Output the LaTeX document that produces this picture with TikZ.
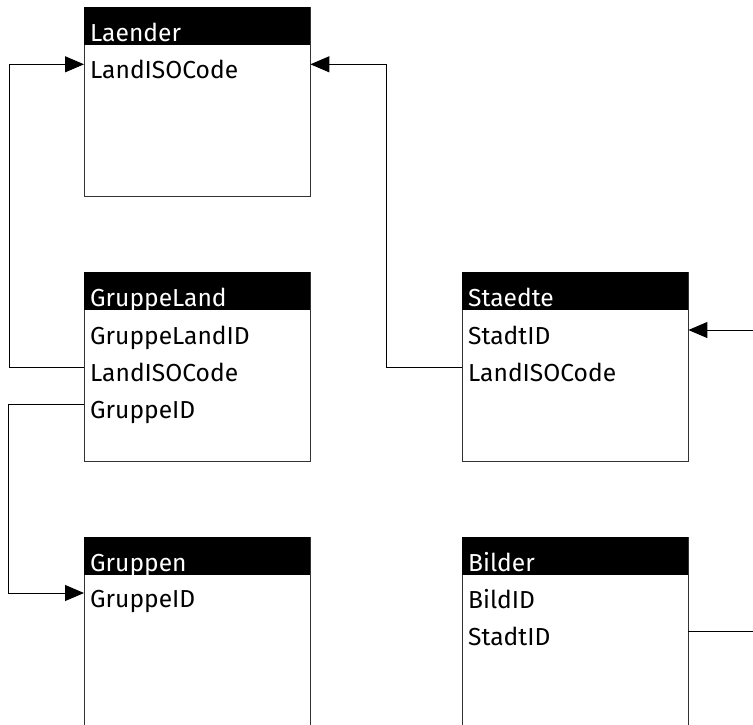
\documentclass[tikz,border=0pt]{standalone}
\usepackage{fontspec}
\setmainfont{Fira Sans}
\usetikzlibrary{arrows.meta}
\begin{document}
\begin{tikzpicture}[x=1pt,y=-1pt,
  tbl/.style={draw=black!80, line width=1.2pt, rectangle, minimum width=226pt, minimum height=189pt, anchor=north west, inner sep=0pt},
  hdr/.style={fill=black, text=white, anchor=north west, minimum width=226pt, minimum height=38pt, text width=214pt, align=left, inner xsep=6pt, inner ysep=0pt, text height=34pt, text depth=4pt, font=\fontsize{24.6}{28}\selectfont},
  fld/.style={anchor=west, text width=214pt, align=left, inner xsep=6pt, inner ysep=0pt, text height=30pt, text depth=1.6pt, font=\fontsize{24.6}{28}\selectfont},
  link/.style={line width=1pt, draw=black},
  tip/.style={-{Triangle[length=19pt,width=16pt]}}
]
\useasboundingbox (0,0) rectangle (753,724);
\clip (0,0) rectangle (753,724);
% Laender
\node[tbl] (la) at (84,7) {};
\node[hdr] (la-h) at (84,7) {Laender};
\node[fld] (la-1) at (84,64.3) {LandISOCode};
% GruppeLand
\node[tbl] (gl) at (84,272) {};
\node[hdr] (gl-h) at (84,272) {GruppeLand};
\node[fld] (gl-1) at (84,330) {GruppeLandID};
\node[fld] (gl-2) at (84,367) {LandISOCode};
\node[fld] (gl-3) at (84,404) {GruppeID};
% Staedte
\node[tbl] (st) at (462,272) {};
\node[hdr] (st-h) at (462,272) {Staedte};
\node[fld] (st-1) at (462,330) {StadtID};
\node[fld] (st-2) at (462,367) {LandISOCode};
% Gruppen
\node[tbl] (gr) at (84,537) {};
\node[hdr] (gr-h) at (84,537) {Gruppen};
\node[fld] (gr-1) at (84,593) {GruppeID};
% Bilder
\node[tbl] (bi) at (462,537) {};
\node[hdr] (bi-h) at (462,537) {Bilder};
\node[fld] (bi-1) at (462,594) {BildID};
\node[fld] (bi-2) at (462,631) {StadtID};
% connectors
\draw[link,tip] (gl-2.west) -- ++(-75,0) |- (la-1.west);
\draw[link,tip] (st-2.west) -- ++(-76,0) |- (la-1.east);
\draw[link,tip] (gl-3.west) -- ++(-76,0) |- (gr-1.west);
\draw[link,tip] (bi-2.east) -- ++(80,0) |- (st-1.east);
\end{tikzpicture}
\end{document}
